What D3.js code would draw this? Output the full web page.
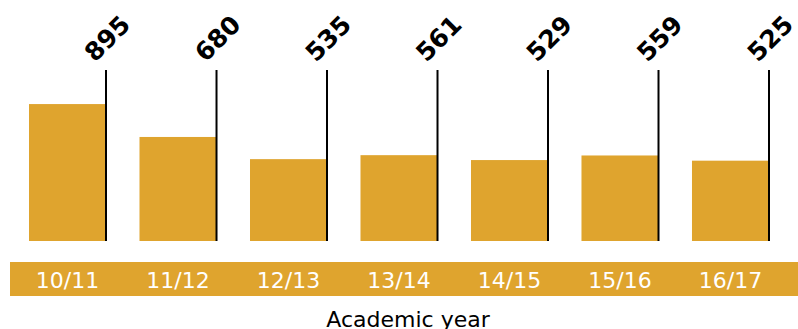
<!DOCTYPE html>
<html>
<head>
<meta charset="utf-8">
<script src="https://cdn.jsdelivr.net/npm/d3@7"></script>
<style>
  body { margin: 0; background: #fff; }
  svg { display: block; font-family: "DejaVu Sans", "Open Sans", sans-serif; }
</style>
</head>
<body>
<svg id="chart" width="798" height="329"></svg>
<script>
// data
var years = ["10/11", "11/12", "12/13", "13/14", "14/15", "15/16", "16/17"];
var students = [895, 680, 535, 561, 529, 559, 525];
var axisTitle = "Academic year";

var gold = "#dfa42e";

var svg = d3.select("#chart");

var x = d3.scaleBand()
    .domain(years)
    .range([29, 769])
    .paddingInner(0.303)
    .paddingOuter(0);

var y = d3.scaleLinear()
    .domain([0, 1000])
    .range([241, 88]);

var lineTop = 70;

// bars
svg.selectAll("rect.bar")
    .data(years)
    .enter()
    .append("rect")
    .attr("class", "bar")
    .attr("x", d => x(d))
    .attr("y", (d, i) => y(students[i]))
    .attr("width", x.bandwidth())
    .attr("height", (d, i) => y(0) - y(students[i]))
    .attr("fill", gold);

// leader lines on right edge of bars
svg.selectAll("line.lead")
    .data(years)
    .enter()
    .append("line")
    .attr("class", "lead")
    .attr("x1", d => x(d) + x.bandwidth())
    .attr("x2", d => x(d) + x.bandwidth())
    .attr("y1", lineTop)
    .attr("y2", y(0))
    .attr("stroke", "#000")
    .attr("stroke-width", 2);

// rotated value labels
svg.selectAll("text.val")
    .data(years)
    .enter()
    .append("text")
    .attr("class", "val")
    .attr("transform", d => "translate(" + (x(d) + x.bandwidth() - 11) + "," + (lineTop - 7) + ") rotate(-45)")
    .attr("font-size", 25)
    .attr("font-weight", "bold")
    .attr("fill", "#000")
    .text((d, i) => students[i]);

// category band
svg.append("rect")
    .attr("x", 10)
    .attr("y", 262)
    .attr("width", 788)
    .attr("height", 34)
    .attr("fill", gold);

svg.selectAll("text.cat")
    .data(years)
    .enter()
    .append("text")
    .attr("class", "cat")
    .attr("x", d => x(d) + x.bandwidth() / 2)
    .attr("y", 288)
    .attr("text-anchor", "middle")
    .attr("font-size", 22)
    .attr("fill", "#fff")
    .text(d => d);

svg.append("text")
    .attr("x", 408)
    .attr("y", 327)
    .attr("text-anchor", "middle")
    .attr("font-size", 22)
    .attr("fill", "#000")
    .text(axisTitle);
</script>
</body>
</html>
